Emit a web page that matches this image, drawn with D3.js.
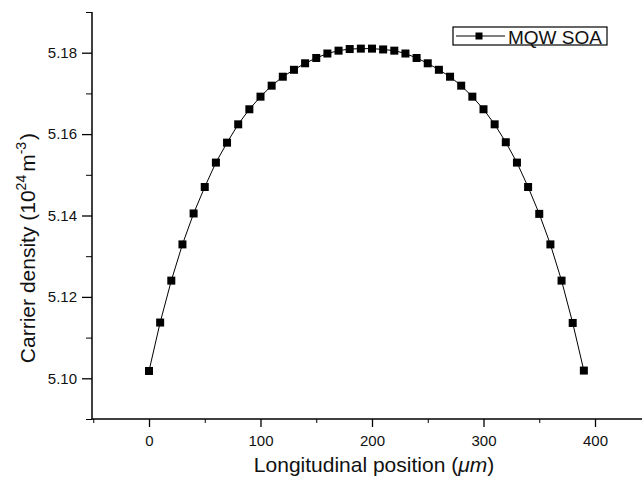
<!DOCTYPE html>
<html>
<head>
<meta charset="utf-8">
<script src="https://cdn.jsdelivr.net/npm/d3@7/dist/d3.min.js"></script>
<style>
  html, body { margin: 0; padding: 0; background: #fff; }
  svg { display: block; font-family: "Liberation Sans", Arial, sans-serif; }
</style>
</head>
<body>
<svg id="chart" width="642" height="485"></svg>
<script>
// Longitudinal position along the amplifier (µm)
const positions = [0, 10, 20, 30, 40, 50, 60, 70, 80, 90,
  100, 110, 120, 130, 140, 150, 160, 170, 180, 190,
  200, 210, 220, 230, 240, 250, 260, 270, 280, 290,
  300, 310, 320, 330, 340, 350, 360, 370, 380, 390];
// Carrier density (10^24 m^-3)
const density = [5.1018, 5.1137, 5.1240, 5.1329, 5.1405, 5.1470, 5.1530, 5.1579, 5.1624, 5.1661,
  5.1692, 5.1719, 5.1741, 5.1758, 5.1774, 5.1787, 5.1798, 5.1805, 5.1809, 5.1810,
  5.1810, 5.1808, 5.1805, 5.1798, 5.1787, 5.1774, 5.1758, 5.1741, 5.1719, 5.1692,
  5.1661, 5.1624, 5.1580, 5.1530, 5.1470, 5.1404, 5.1329, 5.1240, 5.1136, 5.1019];
const seriesName = "MQW SOA";
const xTicks = [0, 100, 200, 300, 400];
const xMinorTicks = [-50, 50, 150, 250, 350, 450];
const yTicks = [5.10, 5.12, 5.14, 5.16, 5.18];
const yMinorTicks = [5.09, 5.11, 5.13, 5.15, 5.17, 5.19];

const svg = d3.select("#chart");
const plotLeft = 92, plotBottom = 419, plotTop = 12;

const x = d3.scaleLinear().domain([0, 400]).range([149, 595]);
const y = d3.scaleLinear().domain([5.09, 5.19]).range([plotBottom, plotTop]);
const xRightEdge = 642;

const data = positions.map((p, i) => ({ p, v: density[i] }));

// Axes
const xAxis = svg.append("g").attr("transform", `translate(0,${plotBottom})`);
xAxis.append("line").attr("x1", plotLeft).attr("x2", xRightEdge).attr("stroke", "#000").attr("stroke-width", 1.5);
xAxis.call(g => {
  const ax = d3.axisBottom(x).tickValues(xTicks).tickSize(8).tickPadding(8).tickFormat(d3.format("d"));
  const gg = g.append("g").call(ax);
  gg.select(".domain").remove();
  gg.selectAll("text").attr("font-size", 15).attr("fill", "#111");
  gg.selectAll("line").attr("stroke-width", 1.3);
  const gm = g.append("g").call(d3.axisBottom(x).tickValues(xMinorTicks.filter(t => x(t) > plotLeft && x(t) < xRightEdge)).tickSize(4).tickFormat(""));
  gm.select(".domain").remove();
});

const yAxis = svg.append("g").attr("transform", `translate(${plotLeft},0)`);
yAxis.append("line").attr("y1", plotTop).attr("y2", plotBottom).attr("stroke", "#000").attr("stroke-width", 1.5);
yAxis.call(g => {
  const gg = g.append("g").call(d3.axisLeft(y).tickValues(yTicks).tickSize(10).tickPadding(5).tickFormat(d3.format(".2f")));
  gg.select(".domain").remove();
  gg.selectAll("text").attr("font-size", 15).attr("fill", "#111");
  gg.selectAll("line").attr("stroke-width", 1.3);
  const gm = g.append("g").call(d3.axisLeft(y).tickValues(yMinorTicks).tickSize(6).tickFormat(""));
  gm.select(".domain").remove();
});

// Axis titles
svg.append("text")
  .attr("x", 374).attr("y", 472)
  .attr("text-anchor", "middle").attr("font-size", 21).attr("fill", "#111")
  .call(t => {
    t.append("tspan").text("Longitudinal position (");
    t.append("tspan").attr("font-style", "italic").text("\u03bcm");
    t.append("tspan").text(")");
  });

svg.append("text")
  .attr("transform", "translate(35,248) rotate(-90)")
  .attr("text-anchor", "middle").attr("font-size", 21).attr("fill", "#111")
  .call(t => {
    t.append("tspan").text("Carrier density (10");
    t.append("tspan").attr("font-size", 14).attr("dy", -9).text("24");
    t.append("tspan").attr("dy", 9).attr("dx", 3).text("m");
    t.append("tspan").attr("font-size", 14).attr("dy", -9).text("-3");
    t.append("tspan").attr("dy", 9).attr("dx", 2).text(")");
  });

// Series line and square markers
const line = d3.line().x(d => x(d.p)).y(d => y(d.v));
svg.append("path").datum(data)
  .attr("d", line).attr("fill", "none").attr("stroke", "#000").attr("stroke-width", 1);

const ms = 8;
svg.append("g").selectAll("rect").data(data).join("rect")
  .attr("x", d => x(d.p) - ms / 2).attr("y", d => y(d.v) - ms / 2)
  .attr("width", ms).attr("height", ms).attr("fill", "#000");

// Legend
const lg = svg.append("g").attr("transform", "translate(453,27)");
lg.append("rect").attr("width", 154).attr("height", 18)
  .attr("fill", "#fff").attr("stroke", "#000").attr("stroke-width", 1.2);
lg.append("line").attr("x1", 3).attr("x2", 52).attr("y1", 9).attr("y2", 9)
  .attr("stroke", "#000").attr("stroke-width", 1);
lg.append("rect").attr("x", 26 - 3.5).attr("y", 9 - 3.5).attr("width", 7).attr("height", 7).attr("fill", "#000");
lg.append("text").attr("x", 55).attr("y", 16.5).attr("font-size", 19).attr("fill", "#111").text(seriesName);
</script>
</body>
</html>
